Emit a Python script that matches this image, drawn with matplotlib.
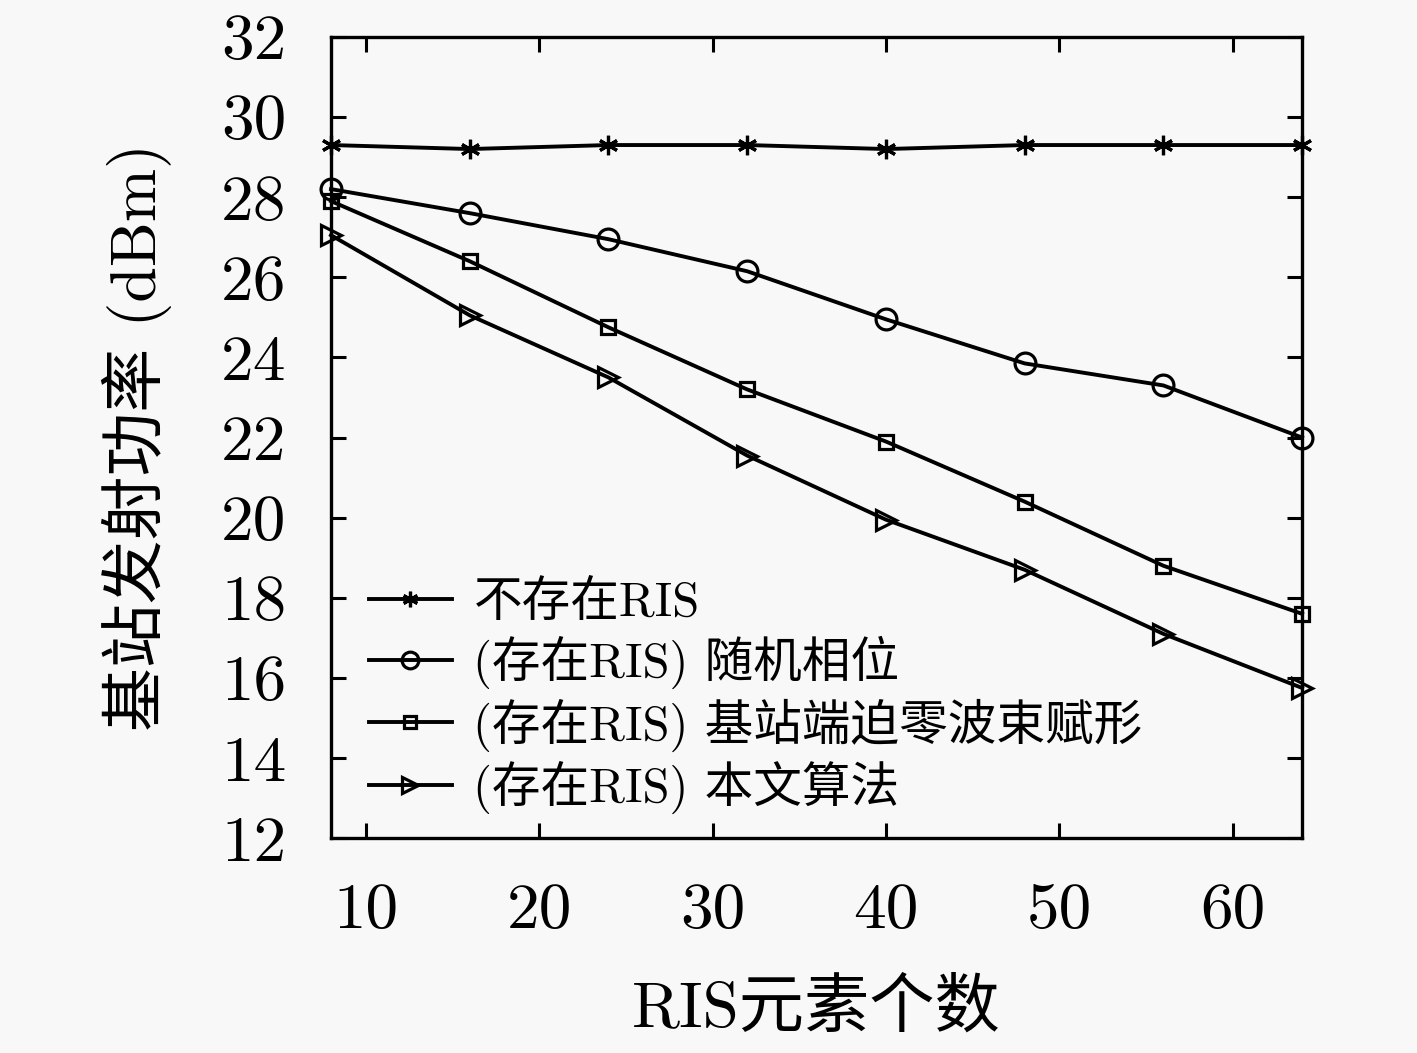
import numpy as np
import matplotlib
matplotlib.use('Agg')
import matplotlib.pyplot as plt

plt.rcParams['font.family'] = ['cmr10', 'Noto Sans CJK SC', 'DejaVu Sans']
plt.rcParams['axes.unicode_minus'] = False

x_vals = [8, 16, 24, 32, 40, 48, 56, 64]
no_ris = [29.3, 29.2, 29.3, 29.3, 29.2, 29.3, 29.3, 29.3]
random_phase = [28.2, 27.6, 26.95, 26.15, 24.95, 23.85, 23.3, 22.0]
zf_bs = [27.9, 26.4, 24.75, 23.2, 21.9, 20.4, 18.8, 17.6]
proposed = [27.05, 25.05, 23.5, 21.55, 19.95, 18.7, 17.1, 15.75]

labels = ['不存在RIS', '(存在RIS) 随机相位', '(存在RIS) 基站端迫零波束赋形', '(存在RIS) 本文算法']
x_ticks = [10, 20, 30, 40, 50, 60]
y_ticks = [12, 14, 16, 18, 20, 22, 24, 26, 28, 30, 32]

fig = plt.figure(figsize=(14.17, 10.53), dpi=100)
fig.patch.set_facecolor('#f8f8f8')
ax = fig.add_axes([0.2336, 0.204, 0.6853, 0.761])
ax.set_facecolor('#f8f8f8')

lw = 2.8
ax.plot(x_vals, no_ris, '-', color='k', lw=lw, marker=(6, 2, 0), markersize=14, mew=2.3,
        clip_on=False, label=labels[0])
ax.plot(x_vals, random_phase, '-', color='k', lw=lw, marker='o', markersize=15, mfc='none', mew=2.3,
        clip_on=False, label=labels[1])
ax.plot(x_vals, zf_bs, '-', color='k', lw=lw, marker='s', markersize=10, mfc='none', mew=2.3,
        clip_on=False, label=labels[2])
ax.plot(x_vals, proposed, '-', color='k', lw=lw, marker='>', markersize=15, mfc='none', mew=2.3,
        clip_on=False, label=labels[3])

ax.set_xlim(8, 64)
ax.set_ylim(12, 32)
ax.set_xticks(x_ticks)
ax.set_yticks(y_ticks)
ax.tick_params(direction='in', top=True, right=True, length=11, width=2.2, labelsize=47, pad=32)
for s in ax.spines.values():
    s.set_linewidth(2.4)

ax.set_xlabel('RIS元素个数', fontsize=47, labelpad=28)
ax.set_ylabel('基站发射功率 (dBm)', fontsize=46, labelpad=35)

leg = ax.legend(loc='lower left', bbox_to_anchor=(-0.006, -0.025), frameon=False, fontsize=35,
                markerscale=0.8, handlelength=1.7, labelspacing=0.2, handletextpad=0.45)

fig.savefig('out.png', dpi=100, facecolor=fig.get_facecolor())
